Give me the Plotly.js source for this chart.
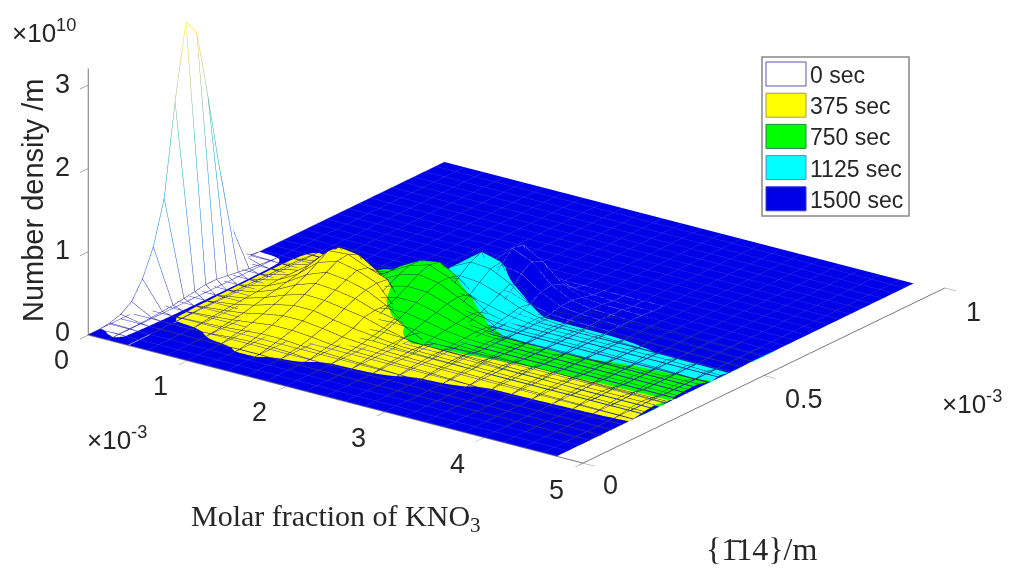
<!DOCTYPE html>
<html><head><meta charset="utf-8">
<script src="https://cdn.plot.ly/plotly-3.0.1.min.js"></script>
<style>html,body{margin:0;padding:0;background:#fff}#c{width:1013px;height:571px}</style>
</head><body><div id="c"></div>
<script>
// x in units of 1e-3 (molar fraction), y in 1e-3 m, z in 1e10 /m
const x0 = [0,.2,.3,.4];
const y0 = [0,.03,.06,.09,.12,.15,.18,.21,.24,.27,.3,.33,.36,.39,.42,.45,.48];
const z0 = [
[.002,.002,.002,0],
[.004,.01,.004,0],
[.02,.012,.004,0],
[.06,.015,.004,0],
[.15,.02,.004,0],
[.36,.03,.004,0],
[.68,.04,.004,0],
[1.2,.06,.004,0],
[2.3,.08,.004,0],
[3.19,.1,.004,0],
[3.0,.1,.004,0],
[2.2,.08,.004,0],
[1.32,.06,.004,0],
[.55,.04,.004,0],
[.1,.025,.004,0],
[.02,.012,.004,0],
[.002,.002,.002,0]];

const x1 = [.3,.4,.6,.8,1,1.2,1.4,1.6,1.8,2,2.3,2.8,3.4,4,4.74];
const y1 = [.06,.09,.12,.15,.18,.21,.24,.27,.3,.33,.36,.39,.42,.45,.48,.51,.54];
const z1 = [
[0,0,0,0,0,0,0,0,0,0,0,0,0,0,0],
[0,0,0,0,0,.01,.01,0,0,0,0,0,0,0,0],
[0,0,0,.01,.03,.04,.04,.03,.01,0,0,0,0,0,0],
[0,.012,.02,.03,.05,.07,.07,.05,.04,.03,.02,0,0,0,0],
[0,.015,.03,.05,.08,.11,.11,.09,.06,.05,.04,.025,0,0,0],
[0,.02,.04,.07,.12,.16,.16,.13,.09,.07,.05,.035,.03,.02,.01],
[0,.02,.05,.10,.17,.22,.22,.17,.13,.1,.06,.05,.04,.04,.035],
[0,.025,.06,.13,.22,.29,.28,.24,.2,.13,.05,.05,.05,.05,.05],
[0,.03,.07,.16,.28,.36,.34,.3,.22,.18,0,.02,.03,.03,.035],
[0,.03,.08,.19,.34,.43,.4,.34,.22,.05,0,0,0,0,0],
[0,.03,.09,.22,.42,.5,.45,.36,.1,0,0,0,0,0,0],
[0,.03,.09,.26,.5,.52,.42,.34,0,0,0,0,0,0,0],
[0,.03,.08,.3,.48,.45,.3,.02,0,0,0,0,0,0,0],
[0,.03,.08,.25,.3,.15,0,0,0,0,0,0,0,0,0],
[0,.025,.05,.1,.02,0,0,0,0,0,0,0,0,0,0],
[0,.012,.01,0,0,0,0,0,0,0,0,0,0,0,0],
[0,0,0,0,0,0,0,0,0,0,0,0,0,0,0]];

const x2 = [1,1.2,1.4,1.6,1.8,2,2.2,2.4,2.6,2.8,3.2,3.6,4,4.74];
const y2 = [.24,.27,.3,.33,.36,.39,.42,.45,.48,.51,.54];
const z2 = [
[0,0,0,.02,.03,.04,.03,.02,.015,.015,0,0,0,0],
[0,0,.02,.05,.07,.08,.07,.05,.045,.04,.015,.01,0,0],
[0,0,.04,.09,.12,.13,.11,.08,.06,.05,.035,.03,.02,.015],
[0,.02,.07,.13,.18,.19,.15,.10,.07,.06,.05,.05,.045,.04],
[0,.04,.11,.19,.25,.25,.19,.12,.08,.06,.05,.05,.05,.05],
[0,.06,.16,.26,.32,.31,.23,.14,.07,.01,0,.01,.03,.05],
[0,.08,.21,.33,.4,.36,.25,.13,0,0,0,0,0,.01],
[0,.09,.25,.38,.45,.36,.22,.05,0,0,0,0,0,0],
[0,.08,.25,.38,.42,.28,.08,0,0,0,0,0,0,0],
[0,.05,.15,.22,.2,.05,0,0,0,0,0,0,0,0],
[0,0,0,0,0,0,0,0,0,0,0,0,0,0]];

const x3 = [1.4,1.6,1.8,2,2.2,2.4,2.6,2.8,3,3.4,3.8,4.2,4.74];
const y3 = [.36,.39,.42,.45,.48,.51,.54,.57,.6];
const z3 = [
[0,0,0,.02,.03,.03,.02,.01,0,0,0,0,0],
[0,0,.02,.05,.06,.05,.03,.02,.01,.02,.01,0,0],
[0,.01,.05,.11,.12,.09,.06,.04,.04,.04,.03,.02,0],
[0,.04,.12,.2,.2,.15,.09,.06,.05,.05,.05,.05,.03],
[0,.08,.22,.32,.3,.22,.12,.06,.04,.03,.01,0,0],
[.02,.12,.3,.42,.4,.28,.1,0,0,0,0,0,0],
[.01,.1,.3,.48,.42,.18,0,0,0,0,0,0,0],
[0,.02,.1,.15,.05,0,0,0,0,0,0,0,0],
[0,0,0,0,0,0,0,0,0,0,0,0,0]];

const x4 = [0,.5,1,1.4,1.7,2,2.2,2.4,2.6,2.8,3,3.4,3.8,4.2,4.74];
const y4 = [0,.42,.45,.48,.51,.54,.57,.6,.63,.66,.7,.985];
const e = .006;
const z4 = [
[e,e,e,e,e,e,e,e,e,e,e,e,e,e,e],
[e,e,e,e,e,e,e,e,e,e,e,e,e,e,e],
[e,e,e,e,e,e,e,e,e,e,e,e,e,e,e],
[e,e,e,e,e,.06,.1,.08,.04,.02,e,e,e,e,e],
[e,e,e,e,.02,.1,.2,.18,.1,.04,.03,.02,.012,e,e],
[e,e,e,e,.05,.2,.38,.34,.18,.07,.04,.02,.02,.015,.01],
[e,e,e,e,.06,.3,.52,.42,.2,.08,.04,.02,.02,.015,.01],
[e,e,e,e,.05,.3,.5,.36,.15,.05,.03,.02,.012,e,e],
[e,e,e,e,.02,.15,.2,.12,.04,.02,e,e,e,e,e],
[e,e,e,e,e,e,e,e,e,e,e,e,e,e,e],
[e,e,e,e,e,e,e,e,e,e,e,e,e,e,e],
[e,e,e,e,e,e,e,e,e,e,e,e,e,e,e]];

const legendLabels = ['0 sec','375 sec','750 sec','1125 sec','1500 sec'];
const legendFill = ['#ffffff','#ffff00','#00ff00','#00ffff','#0000e8'];
const legendEdge = ['#5a55a8','#a89a50','#1a8a40','#4a90d0','#3a3ae0'];
const xTicks = [0,1,2,3,4,5];
const yTicks = [0,.5,1];
const zTicks = [0,1,2,3];

const parula = [[0,'#352a87'],[.15,'#0f5cdd'],[.3,'#1481d6'],[.45,'#06a4ca'],[.6,'#2eb7a4'],[.72,'#87bf77'],[.85,'#d1bb59'],[.93,'#fec832'],[1,'#f9fb0e']];
const flat = c => [[0,c],[1,c]];
const light = {ambient:1,diffuse:0,specular:0,roughness:1,fresnel:0};
function sheet(x,y,z,fill,line,w){
  return {type:'surface',x,y,z,colorscale:flat(fill),showscale:false,lighting:light,hoverinfo:'skip',
    contours:{x:{show:true,start:0,end:5,size:.2,color:line,width:w||1,highlight:false},
              y:{show:true,start:0,end:1,size:.03,color:line,width:w||1,highlight:false},
              z:{show:false,highlight:false}}};
}
const wire = {type:'surface',x:x0,y:y0,z:z0,colorscale:parula,cmin:0,cmax:3.17,showscale:false,hidesurface:true,lighting:light,hoverinfo:'skip',
  contours:{x:{show:true,start:0,end:.4,size:.2,usecolormap:true,width:2,highlight:false},
            y:{show:true,start:.03,end:.48,size:.03,usecolormap:true,width:2,highlight:false},
            z:{show:false,highlight:false}}};
const humpLines = {type:'surface',x:x4.slice(4,12),y:y4.slice(2,10),z:z4.slice(2,10).map(r=>r.slice(4,12)),colorscale:flat('#7f8cf5'),showscale:false,hidesurface:true,lighting:light,hoverinfo:'skip',
  contours:{x:{show:true,start:0,end:5,size:.2,color:'#7f8cf5',width:1,highlight:false},
            y:{show:true,start:0,end:1,size:.03,color:'#7f8cf5',width:1,highlight:false},
            z:{show:false,highlight:false}}};
const data = [
  sheet(x4,y4,z4,'#0000e8','#3030e4'),
  humpLines,
  sheet(x0,y0,z0,'#ffffff','#ffffff'),
  wire,
  sheet(x3,y3,z3,'#00ffff','#123a70',2),
  sheet(x2,y2,z2,'#00ff00','#004a50',2),
  sheet(x1,y1,z1,'#ffff00','#2a2050',2)
];
const ax = (range,vals,extra)=>Object.assign({range,tickmode:'array',tickvals:vals,ticktext:vals.map(String),showticklabels:false,showgrid:false,zeroline:false,showbackground:false,
  showline:true,linecolor:'#777',linewidth:2,ticks:'outside',ticklen:14,tickwidth:1,tickcolor:'#555',title:{text:''},showspikes:false},extra||{});
const k=2.147, d=3, dir=[.552,-.755,.354], cen=[.0233*k,-.0596*k,-.1637*k];
const shapes=[], ann=[];
const px=v=>v/1013, py=v=>1-v/571;
shapes.push({type:'rect',xref:'paper',yref:'paper',x0:px(762),x1:px(909),y0:py(57),y1:py(216),line:{color:'#888',width:1.5},fillcolor:'#fff'});
legendLabels.forEach((t,i)=>{
  const top=62+i*31.2;
  shapes.push({type:'rect',xref:'paper',yref:'paper',x0:px(766),x1:px(806),y0:py(top),y1:py(top+24),line:{color:legendEdge[i],width:1},fillcolor:legendFill[i]});
  ann.push({xref:'paper',yref:'paper',x:px(808),y:py(top+13),xanchor:'left',yanchor:'middle',showarrow:false,text:t,font:{family:'Liberation Sans',size:23,color:'#262626'}});
});
const note=(t,xx,yy,f,anchor)=>ann.push(Object.assign({xref:'paper',yref:'paper',x:px(xx),y:py(yy),xanchor:anchor||'center',yanchor:'middle',showarrow:false,text:t,font:Object.assign({family:'Liberation Sans',size:26,color:'#262626'},f||{})}));
const tickFont={size:27};
xTicks.forEach(v=>note(String(v),61+99*v,360+26*v,tickFont));
yTicks.forEach(v=>note(String(v),601+363*v,485-173*v,tickFont,'left'));
zTicks.forEach(v=>note(String(v),62,332-82.5*v,tickFont));
note('×10<sup>10</sup>',44,31);
note('×10<sup>-3</sup>',117,438);
note('×10<sup>-3</sup>',972,402);
note('Molar fraction of KNO<sub>3</sub>',336,518,{family:'Liberation Serif',size:30});
note('{1\u030414}/m',761,549,{family:'Liberation Serif',size:32});
ann.push({xref:'paper',yref:'paper',x:px(33),y:py(201),xanchor:'center',yanchor:'middle',showarrow:false,textangle:-90,text:'Number density /m',font:{family:'Liberation Sans',size:29,color:'#262626'}});
const layout={width:1013,height:571,margin:{l:0,r:0,t:0,b:0},paper_bgcolor:'#fff',showlegend:false,shapes,annotations:ann,
  scene:{domain:{x:[0,1],y:[0,1]},aspectmode:'manual',aspectratio:{x:k,y:k,z:.465*k},
    camera:{projection:{type:'orthographic'},up:{x:0,y:0,z:1},
      center:{x:cen[0],y:cen[1],z:cen[2]},
      eye:{x:cen[0]+d*dir[0],y:cen[1]+d*dir[1],z:cen[2]+d*dir[2]}},
    xaxis:ax([0,5],xTicks),yaxis:ax([0,1],yTicks),zaxis:ax([0,3.2],zTicks)}};
Plotly.newPlot('c',data,layout,{displayModeBar:false});
</script></body></html>
